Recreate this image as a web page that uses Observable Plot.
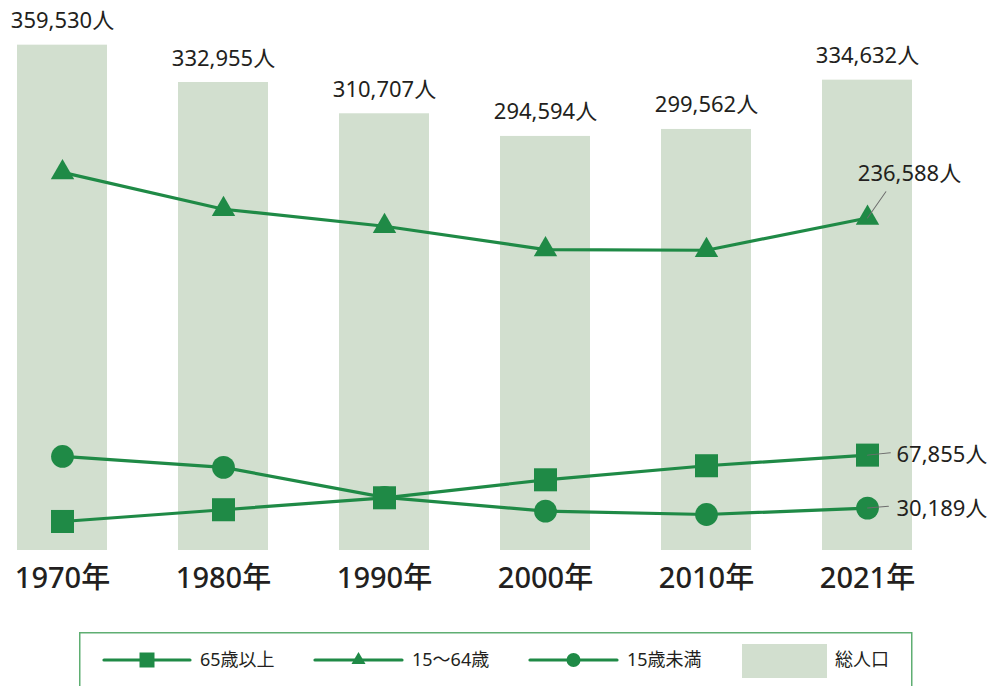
<!DOCTYPE html>
<html>
<head>
<meta charset="utf-8">
<script src="https://cdn.jsdelivr.net/npm/d3@7"></script>
<script src="https://cdn.jsdelivr.net/npm/@observablehq/plot@0.6"></script>
<style>
  html, body { margin: 0; padding: 0; background: #fff; }
  #wrap { position: relative; width: 990px; height: 686px; overflow: hidden; font-family: 'Noto Sans', 'Noto Sans CJK JP', sans-serif; }
  #legend { position: absolute; left: 79px; top: 632px; }
  svg text { font-family: 'Noto Sans', 'Noto Sans CJK JP', sans-serif; }
</style>
</head>
<body>
<div id="wrap">
  <div id="chart"></div>
  <div id="legend"></div>
</div>
<script>
// ---- data ----
const years = ["1970", "1980", "1990", "2000", "2010", "2021"];
const totalPop = [359530, 332955, 310707, 294594, 299562, 334632];
const age15to64 = [269000, 242800, 230700, 214100, 213600, 236588];
const age65plus = [20650, 29000, 37500, 50300, 60300, 67855];
const under15 = [66900, 59100, 37800, 28000, 25600, 30189];
const seriesNames = ["65歳以上", "15〜64歳", "15歳未満", "総人口"];
const yearSuffix = "年";
const unit = "人";

const rows = years.map((y, i) => ({
  year: y, total: totalPop[i], a1564: age15to64[i], a65: age65plus[i], u15: under15[i]
}));
const last = rows[rows.length - 1];

const green = "#1f8a46";
const barFill = "#d2dfcf";
const ink = "#231f20";
const font = "'Noto Sans', 'Noto Sans CJK JP', sans-serif";
const fmt = d3.format(",");
const leaderShape = { draw(context, l) { context.moveTo(0, 0); context.lineTo(0, -l); } };

const chart = Plot.plot({
  width: 990,
  height: 610,
  marginLeft: 16,
  marginRight: 77,
  marginTop: 44,
  marginBottom: 60,
  style: { fontFamily: font, color: ink, background: "white", overflow: "visible" },
  x: { type: "band", domain: years, paddingInner: 0.44, paddingOuter: 0, align: 0.5, axis: null },
  y: { domain: [0, 360000], axis: null },
  marks: [
    Plot.barY(rows, { x: "year", y: "total", fill: barFill }),
    Plot.line(rows, { x: "year", y: "a1564", stroke: green, strokeWidth: 3.2 }),
    Plot.line(rows, { x: "year", y: "u15", stroke: green, strokeWidth: 3.2 }),
    Plot.line(rows, { x: "year", y: "a65", stroke: green, strokeWidth: 3.2 }),
    Plot.dot(rows, { x: "year", y: "u15", symbol: "circle", r: 11.4, fill: green }),
    Plot.dot(rows, { x: "year", y: "a65", symbol: "square", r: 13, fill: green }),
    Plot.dot(rows, { x: "year", y: "a1564", symbol: "triangle", r: 8.7, fill: green }),
    // leader lines for 2021 annotations
    Plot.vector([last], { x: "year", y: "a1564", length: 32, rotate: 35, anchor: "start", shape: leaderShape, stroke: "#6d6d6d", strokeWidth: 1 }),
    Plot.vector([last], { x: "year", y: "a65", length: 23, rotate: 84, anchor: "start", shape: leaderShape, stroke: "#6d6d6d", strokeWidth: 1 }),
    Plot.vector([last], { x: "year", y: "u15", length: 21, rotate: 85, anchor: "start", shape: leaderShape, stroke: "#6d6d6d", strokeWidth: 1 }),
    // total labels
    Plot.text(rows, { x: "year", y: "total", text: d => fmt(d.total) + unit, dy: -24, fontSize: 22, fontFamily: font, fill: ink }),
    // 2021 annotations
    Plot.text([last], { x: "year", y: "a1564", text: d => fmt(d.a1564) + unit, dx: 42, dy: -44, fontSize: 22, fontFamily: font, fill: ink }),
    Plot.text([last], { x: "year", y: "a65", text: d => fmt(d.a65) + unit, dx: 29, dy: 0, textAnchor: "start", fontSize: 22, fontFamily: font, fill: ink }),
    Plot.text([last], { x: "year", y: "u15", text: d => fmt(d.u15) + unit, dx: 29, dy: 1, textAnchor: "start", fontSize: 22, fontFamily: font, fill: ink }),
    Plot.axisX({ tickSize: 0, tickPadding: 17, fontSize: 29, fontWeight: 500, fontVariant: "normal", fontFamily: font, tickFormat: d => d + yearSuffix, label: null, fill: ink })
  ]
});
document.getElementById("chart").appendChild(chart);

// ---- legend ----
const lg = d3.select("#legend").append("svg")
  .attr("width", 834).attr("height", 60)
  .style("overflow", "visible")
  .style("font-family", font);
lg.append("rect").attr("x", 0.75).attr("y", 0.75).attr("width", 832).attr("height", 70)
  .attr("fill", "none").attr("stroke", "#5fae72").attr("stroke-width", 1.5);
const cy = 28;
const items = [
  { x0: 25, x1: 111, sym: d3.symbolSquare, size: 15 * 15, tx: 121 },
  { x0: 236, x1: 323, sym: d3.symbolTriangle, size: 85, tx: 333 },
  { x0: 451, x1: 538, sym: d3.symbolCircle, size: Math.PI * 7 * 7, tx: 548 }
];
items.forEach((it, i) => {
  lg.append("line").attr("x1", it.x0).attr("x2", it.x1).attr("y1", cy).attr("y2", cy)
    .attr("stroke", green).attr("stroke-width", 3.2).attr("stroke-linecap", "round");
  lg.append("path").attr("d", d3.symbol(it.sym, it.size)())
    .attr("transform", `translate(${(it.x0 + it.x1) / 2},${cy})`).attr("fill", green);
  lg.append("text").attr("x", it.tx).attr("y", cy).attr("dy", "0.36em")
    .attr("font-size", 18).attr("fill", ink).text(seriesNames[i]);
});
lg.append("rect").attr("x", 663).attr("y", 12).attr("width", 85).attr("height", 34).attr("fill", barFill);
lg.append("text").attr("x", 756).attr("y", cy).attr("dy", "0.36em")
  .attr("font-size", 18).attr("fill", ink).text(seriesNames[3]);
</script>
</body>
</html>
